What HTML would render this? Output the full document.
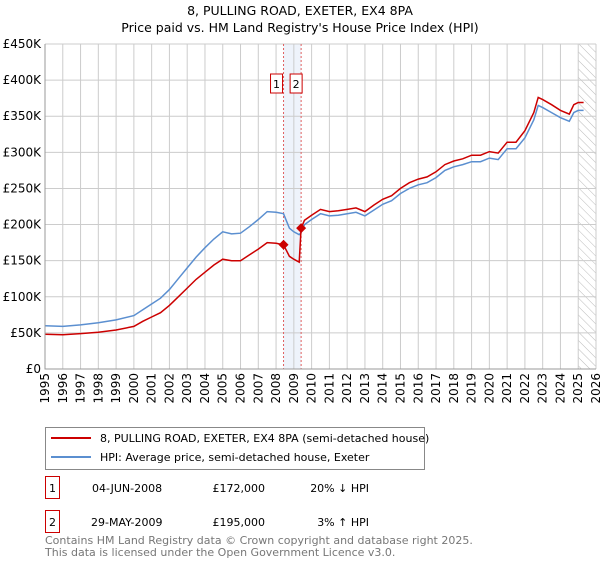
<!DOCTYPE html>
<html><head><meta charset="utf-8"><style>
body{margin:0;background:#fff;font-family:"Liberation Sans","DejaVu Sans",sans-serif;}
svg text{font-family:"DejaVu Sans","Liberation Sans",sans-serif;}
</style></head><body>
<svg id="c" width="600" height="560" xmlns="http://www.w3.org/2000/svg">
<text x="300" y="15" font-size="12.5" text-anchor="middle">8, PULLING ROAD, EXETER, EX4 8PA</text>
<text x="300" y="32" font-size="12.5" text-anchor="middle">Price paid vs. HM Land Registry's House Price Index (HPI)</text>
<defs><pattern id="h" width="6" height="6" patternUnits="userSpaceOnUse" patternTransform="rotate(-45)"><line x1="0" y1="0" x2="0" y2="6" stroke="#bbb" stroke-width="1"/></pattern></defs>
<g id="grid"></g>
<g id="marks"></g>
<g id="legend">
<rect x="45.5" y="427.5" width="379" height="42" fill="#fff" stroke="#888"/>
<line x1="51" y1="438" x2="91" y2="438" stroke="#cc0000" stroke-width="2"/>
<text x="100" y="442" font-size="11">8, PULLING ROAD, EXETER, EX4 8PA (semi-detached house)</text>
<line x1="51" y1="457" x2="91" y2="457" stroke="#5b8fd0" stroke-width="2"/>
<text x="100" y="461" font-size="11">HPI: Average price, semi-detached house, Exeter</text>
</g>
<g font-size="11">
<rect x="45.5" y="476.5" width="14" height="22" fill="none" stroke="#cc0000"/>
<text x="52.5" y="492" text-anchor="middle">1</text>
<text x="92" y="492">04-JUN-2008</text>
<text x="265" y="492" text-anchor="end">£172,000</text>
<text x="369" y="492" text-anchor="end">20% ↓ HPI</text>
<rect x="45.5" y="510.5" width="14" height="22" fill="none" stroke="#cc0000"/>
<text x="52.5" y="526" text-anchor="middle">2</text>
<text x="91" y="526">29-MAY-2009</text>
<text x="265" y="526" text-anchor="end">£195,000</text>
<text x="369" y="526" text-anchor="end">3% ↑ HPI</text>
</g>
<text x="45" y="544" font-size="11" fill="#777">Contains HM Land Registry data © Crown copyright and database right 2025.</text>
<text x="45" y="556" font-size="11" fill="#777">This data is licensed under the Open Government Licence v3.0.</text>
</svg>
<script>
const years=[1995,1996,1997,1998,1999,2000,2000.5,2001,2001.5,2002,2002.5,2003,2003.5,2004,2004.5,2005,2005.5,2006,2006.5,2007,2007.5,2008,2008.42,2008.75,2009,2009.3,2009.41,2009.6,2010,2010.5,2011,2011.5,2012,2012.5,2013,2013.5,2014,2014.5,2015,2015.5,2016,2016.5,2017,2017.5,2018,2018.5,2019,2019.5,2020,2020.5,2021,2021.5,2022,2022.5,2022.75,2023,2023.5,2024,2024.5,2024.75,2025,2025.3];
const hpiValues=[60,59,61,64,68,74,82,90,98,110,125,140,155,168,180,190,187,188,197,207,218,217,215,195,190,186,189,200,207,215,212,213,215,217,212,220,228,233,243,250,255,258,265,275,280,283,287,287,292,290,305,305,320,345,365,362,355,348,343,355,358,358];
const priceValues=[48,47.5,49,51,54,59,66,72,78,88,100,112,124,134,144,152,150,150,158,166,175,174,172,156,152,148,195,206,213,221,218,219,221,223,218,227,235,240,250,258,263,266,273,283,288,291,296,296,301,299,314,314,330,355,376,373,366,358,353,366,369,369];
const yTicks=[0,50,100,150,200,250,300,350,400,450];
const yTickLabels=["£0","£50K","£100K","£150K","£200K","£250K","£300K","£350K","£400K","£450K"];
const xTicks=[1995,1996,1997,1998,1999,2000,2001,2002,2003,2004,2005,2006,2007,2008,2009,2010,2011,2012,2013,2014,2015,2016,2017,2018,2019,2020,2021,2022,2023,2024,2025,2026];
const saleYears=[2008.42,2009.41];
const salePrices=[172,195];
const saleLabels=["1","2"];
const X0=45,X1=596,Y0=369,Y1=44;
const xs=v=>X0+(v-1995)/(2026-1995)*(X1-X0);
const ys=v=>Y0-v/450*(Y0-Y1);
const NS="http://www.w3.org/2000/svg";
const grid=document.getElementById('grid'),marks=document.getElementById('marks');
function mk(tag,attrs,parent){const e=document.createElementNS(NS,tag);for(const k in attrs)e.setAttribute(k,attrs[k]);parent.appendChild(e);return e;}
// hatch future
let hz=mk('rect',{x:xs(2025),y:Y1,width:X1-xs(2025),height:Y0-Y1,fill:'url(#h)'},grid);


let band=mk('rect',{x:xs(saleYears[0]),y:Y1,width:xs(saleYears[1])-xs(saleYears[0]),height:Y0-Y1,fill:'#eef3fb'},grid);


yTicks.forEach((v,i)=>{
 let l=mk('line',{x1:X0,x2:X1,y1:ys(v),y2:ys(v),stroke:'#ccc'},grid);
 
 
 let t=mk('text',{x:X0-4,y:ys(v)+4,'font-size':12,'text-anchor':'end'},grid);t.textContent=yTickLabels[i];
 
 
});
xTicks.forEach(v=>{
 let l=mk('line',{x1:xs(v),x2:xs(v),y1:Y1,y2:Y0,stroke:'#ccc'},grid);
 
 
 let t=mk('text',{x:0,y:0,'font-size':12,'text-anchor':'end',transform:`translate(${xs(v)+4},${Y0+4}) rotate(-90)`},grid);t.textContent=v;
 
 
});
saleYears.forEach(v=>{
 let l=mk('line',{x1:xs(v),x2:xs(v),y1:Y1,y2:Y0,stroke:'#e06060','stroke-dasharray':'2,2'},grid);
 
 
});
function path(vals){return vals.map((v,i)=>(i?'L':'M')+xs(years[i]).toFixed(1)+','+ys(v).toFixed(1)).join('');}
let hp=mk('path',{d:path(hpiValues),fill:'none',stroke:'#5b8fd0','stroke-width':1.5},marks);


let pp=mk('path',{d:path(priceValues),fill:'none',stroke:'#cc0000','stroke-width':1.5},marks);


saleYears.forEach((v,i)=>{
 const cx=xs(v),cy=ys(salePrices[i]);
 let d=mk('path',{d:`M${cx},${cy-5}L${cx+5},${cy}L${cx},${cy+5}L${cx-5},${cy}Z`,fill:'#cc0000'},marks);
 
 
 const bx=i==0?cx-13:cx-11;
 let b=mk('rect',{x:bx,y:74,width:12,height:19,fill:'#fff',stroke:'#cc0000'},marks);
 
 
 let t=mk('text',{x:bx+6,y:88,'font-size':11,'text-anchor':'middle'},marks);t.textContent=saleLabels[i];
 
 
});
let ax=mk('path',{d:`M${X0},${Y1}V${Y0}H${X1}`,fill:'none',stroke:'#999'},marks);


</script>
</body></html>
